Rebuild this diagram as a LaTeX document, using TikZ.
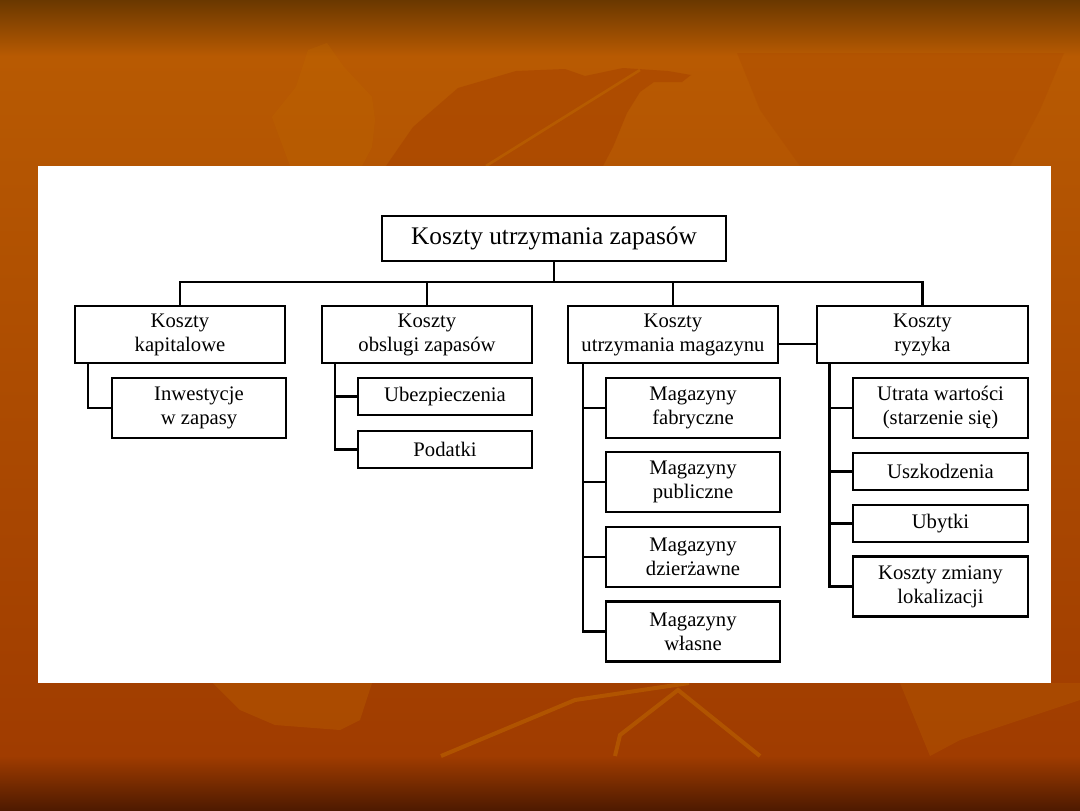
\documentclass[tikz,border=0pt]{standalone}
\usepackage{fontspec}
\setmainfont{Liberation Serif}
\usepackage{xcolor}
\usetikzlibrary{positioning,calc}

\definecolor{bgdark}{HTML}{6A3800}
\definecolor{bgorange}{HTML}{B85A02}
\definecolor{bgrust}{HTML}{A03C00}
\definecolor{bgdeep}{HTML}{4E1A00}
\definecolor{leafdark}{HTML}{A84400}
\definecolor{leaflight}{HTML}{C06A00}

\begin{document}
\begin{tikzpicture}[x=0.75pt,y=-0.75pt,
  box/.style={draw, line width=1.6pt, inner sep=0pt, align=center,
              font=\fontsize{15.5}{18}\selectfont},
  group/.style={box, minimum width=158pt, minimum height=42.75pt},
  item/.style={box, minimum width=130.5pt, minimum height=45pt},
  slim/.style={box, minimum width=130.5pt, minimum height=27.75pt},
  link/.style={line width=1.6pt}
]
\useasboundingbox (0,0) rectangle (1080,810);

% background of the slide
\fill[top color=bgdark, bottom color=bgorange] (0,0) rectangle (1080,56);
\fill[top color=bgorange, bottom color=bgrust] (0,56) rectangle (1080,756);
\fill[top color=bgrust, bottom color=bgdeep] (0,756) rectangle (1080,810);
\fill[leafdark, opacity=.6] (458,88) -- (516,71) -- (565,69) -- (585,76) -- (623,68)
  -- (668,71) -- (691,75) -- (682,82) -- (654,82) -- (640,92) -- (627,113)
  -- (613,147) -- (603,166) -- (386,166) -- (413,127) -- cycle;
\draw[leaflight, line width=2pt, opacity=.5] (640,70) -- (486,166);
\fill[leaflight, opacity=.25] (308,50) -- (327,43) -- (344,67) -- (372,97) -- (375,120)
  -- (372,147) -- (362,166) -- (290,166) -- (272,117) -- (296,87) -- cycle;
\fill[leafdark, opacity=.25] (737,53) -- (1064,53) -- (1040,110) -- (1010,166)
  -- (800,166) -- (760,110) -- cycle;
\fill[leaflight, opacity=.3] (213,683) -- (372,683) -- (360,720) -- (340,730)
  -- (275,725) -- (240,710) -- cycle;
\draw[leaflight, line width=3pt, opacity=.5] (441,756) -- (575,700) -- (689,683);
\draw[leaflight, line width=3pt, opacity=.5] (615,756) -- (620,735) -- (678,690) -- (760,756);
\fill[leaflight, opacity=.25] (900,683) -- (1080,683) -- (1080,700) -- (960,740)
  -- (930,756) -- cycle;

% white panel
\fill[white] (38,166) rectangle (1051,683);

% nodes
\node[box, minimum width=258pt, minimum height=33.75pt,
      font=\fontsize{19}{22}\selectfont] (root) at (554,238.5) {Koszty utrzymania zapasów};

\node[group] (kap) at (180,334.5)   {Koszty\\kapitalowe};
\node[group] (obs) at (427,334.5)   {Koszty\\obslugi zapasów};
\node[group] (mag) at (673,334.5)   {Koszty\\utrzymania magazynu};
\node[group] (ryz) at (922.5,334.5) {Koszty\\ryzyka};

\node[item] (inw) at (199,408)   {Inwestycje\\w zapasy};
\node[slim] (ube) at (445,396.5) {Ubezpieczenia};
\node[slim] (pod) at (445,449.5) {Podatki};

\node[item] (fab) at (693,408)   {Magazyny\\fabryczne};
\node[item] (pub) at (693,482)   {Magazyny\\publiczne};
\node[item] (dzi) at (693,557)   {Magazyny\\dzierżawne};
\node[item] (wla) at (693,631.5) {Magazyny\\własne};

\node[item, minimum width=131.25pt] (utr) at (940.5,408)   {Utrata wartości\\(starzenie się)};
\node[slim, minimum width=131.25pt] (usz) at (940.5,471.5) {Uszkodzenia};
\node[slim, minimum width=131.25pt] (uby) at (940.5,523.5) {Ubytki};
\node[item, minimum width=131.25pt] (lok) at (940.5,586.5) {Koszty zmiany\\lokalizacji};

% connectors
\coordinate (bus) at (554,282);
\draw[link] (root.south) -- (bus);
\draw[link] (kap.north) |- (bus) -| (ryz.north);
\draw[link] (obs.north) -- (obs.north |- bus);
\draw[link] (mag.north) -- (mag.north |- bus);
\draw[link] ([yshift=-7pt]mag.east) -- ([yshift=-7pt]ryz.west);

\coordinate (kapS) at ([xshift=10.5pt]kap.south west);
\coordinate (obsS) at ([xshift=11pt]obs.south west);
\coordinate (magS) at ([xshift=12pt]mag.south west);
\coordinate (ryzS) at ([xshift=10pt]ryz.south west);

\draw[link] (kapS) |- (inw.west);
\draw[link] (obsS) |- (pod.west);
\draw[link] (ube.west) -- (ube.west -| obsS);
\draw[link] (magS) |- (wla.west);
\foreach \c in {fab,pub,dzi}
  \draw[link] (\c.west) -- (\c.west -| magS);
\draw[link] (ryzS) |- (lok.west);
\foreach \c in {utr,usz,uby}
  \draw[link] (\c.west) -- (\c.west -| ryzS);
\end{tikzpicture}
\end{document}
